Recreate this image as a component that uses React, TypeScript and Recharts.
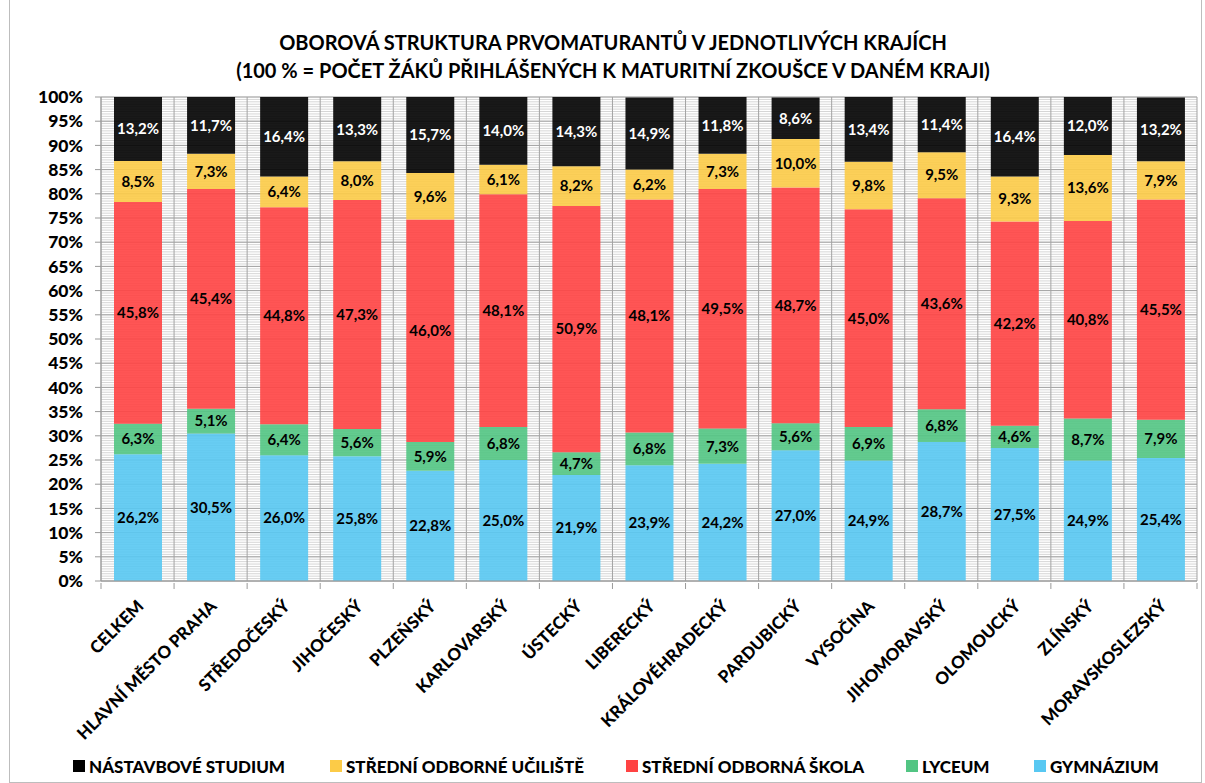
import React from 'react';
import { BarChart, Bar, XAxis, YAxis, CartesianGrid, LabelList } from 'recharts';

const categories = [
  'CELKEM', 'HLAVNÍ MĚSTO PRAHA', 'STŘEDOČESKÝ', 'JIHOČESKÝ', 'PLZEŇSKÝ',
  'KARLOVARSKÝ', 'ÚSTECKÝ', 'LIBERECKÝ', 'KRÁLOVÉHRADECKÝ', 'PARDUBICKÝ',
  'VYSOČINA', 'JIHOMORAVSKÝ', 'OLOMOUCKÝ', 'ZLÍNSKÝ', 'MORAVSKOSLEZSKÝ',
];
const gymnazium = [26.2, 30.5, 26.0, 25.8, 22.8, 25.0, 21.9, 23.9, 24.2, 27.0, 24.9, 28.7, 27.5, 24.9, 25.4];
const lyceum = [6.3, 5.1, 6.4, 5.6, 5.9, 6.8, 4.7, 6.8, 7.3, 5.6, 6.9, 6.8, 4.6, 8.7, 7.9];
const sos = [45.8, 45.4, 44.8, 47.3, 46.0, 48.1, 50.9, 48.1, 49.5, 48.7, 45.0, 43.6, 42.2, 40.8, 45.5];
const sou = [8.5, 7.3, 6.4, 8.0, 9.6, 6.1, 8.2, 6.2, 7.3, 10.0, 9.8, 9.5, 9.3, 13.6, 7.9];
const nastavba = [13.2, 11.7, 16.4, 13.3, 15.7, 14.0, 14.3, 14.9, 11.8, 8.6, 13.4, 11.4, 16.4, 12.0, 13.2];
const yTicks = [0, 5, 10, 15, 20, 25, 30, 35, 40, 45, 50, 55, 60, 65, 70, 75, 80, 85, 90, 95, 100];

const series = [
  { key: 'gym', name: 'GYMNÁZIUM', color: '#58C8F2', text: '#000000', values: gymnazium },
  { key: 'lyc', name: 'LYCEUM', color: '#52C583', text: '#000000', values: lyceum },
  { key: 'sos', name: 'STŘEDNÍ ODBORNÁ ŠKOLA', color: '#FF4343', text: '#000000', values: sos },
  { key: 'sou', name: 'STŘEDNÍ ODBORNÉ UČILIŠTĚ', color: '#FCCB47', text: '#000000', values: sou },
  { key: 'nas', name: 'NÁSTAVBOVÉ STUDIUM', color: '#000000', text: '#FFFFFF', values: nastavba },
];
const legendOrder = ['nas', 'sou', 'sos', 'lyc', 'gym'];
const legendLeft = [73, 330, 626, 906, 1034];

const data = categories.map((c, i) => {
  const row: Record<string, string | number> = { name: c };
  series.forEach((s) => { row[s.key] = s.values[i]; });
  return row;
});

const FONT = 'Lato, "Open Sans", sans-serif';
const W = 1205;
const H = 783;
const M = { top: 97, right: 8, left: 0, bottom: 0 };
const YW = 101;
const XH = 202;
const PLOT_W = W - YW - M.right;
const N = categories.length;

const fmt = (v: number) => v.toFixed(1).replace('.', ',') + '%';

const XTick = (props: any) => {
  const { x, y, payload } = props;
  const band = PLOT_W / N;
  const bx = x - band / 2;
  return (
    <g>
      <line x1={bx} y1={y} x2={bx} y2={y + 6} stroke="#9a9a9a" />
      {payload.index === N - 1 ? (
        <line x1={bx + band} y1={y} x2={bx + band} y2={y + 6} stroke="#9a9a9a" />
      ) : null}
      <text
        transform={`translate(${x + 3},${y + 20}) rotate(-45)`}
        textAnchor="end"
        dy="0.35em"
        fontFamily={FONT}
        fontWeight={900}
        fontSize={17}
        fill="#000"
      >
        {payload.value}
      </text>
    </g>
  );
};

export default function App() {
  return (
    <div style={{ position: 'absolute', left: 0, top: 0, width: W, height: H, background: '#fff', overflow: 'hidden' }}>
      <div style={{ position: 'absolute', left: 9, top: -1, width: 1193, height: H + 1, border: '1px solid #bdbdbd', boxSizing: 'border-box' }} />
      <div
        style={{
          position: 'absolute', left: 213, top: 28, width: 800, textAlign: 'center',
          fontFamily: FONT, fontWeight: 700, fontSize: 20, lineHeight: '28px', color: '#000',
        }}
      >
        <div>OBOROVÁ STRUKTURA PRVOMATURANTŮ V JEDNOTLIVÝCH KRAJÍCH</div>
        <div>(100 % = POČET ŽÁKŮ PŘIHLÁŠENÝCH K MATURITNÍ ZKOUŠCE V DANÉM KRAJI)</div>
      </div>
      <div style={{ position: 'absolute', left: 0, top: 0 }}>
        <BarChart width={W} height={H} data={data} margin={M} barSize={48}>
          <CartesianGrid
            stroke="#d6d6d6"
            vertical={false}
            horizontalCoordinatesGenerator={({ offset }: any) =>
              Array.from({ length: 201 }, (_, i) => offset.top + (offset.height * i) / 200)
            }
          />
          <CartesianGrid
            stroke="#a3a3a3"
            horizontal
            vertical
            verticalCoordinatesGenerator={({ offset }: any) =>
              Array.from({ length: N + 1 }, (_, i) => offset.left + (offset.width * i) / N)
            }
          />
          <XAxis
            dataKey="name"
            interval={0}
            height={XH}
            axisLine={{ stroke: '#9a9a9a' }}
            tickLine={false}
            tickSize={0}
            tick={<XTick />}
          />
          <YAxis
            type="number"
            domain={[0, 100]}
            ticks={yTicks}
            interval={0}
            allowDataOverflow
            width={YW}
            axisLine={{ stroke: '#9a9a9a' }}
            tickLine={{ stroke: '#9a9a9a' }}
            tickSize={6}
            tickMargin={12}
            tickFormatter={(v: number) => `${v}%`}
            tick={{ fontFamily: FONT, fontWeight: 900, fontSize: 17.5, fill: '#000' }}
          />
          {series.map((s) => (
            <Bar
              key={s.key}
              dataKey={s.key}
              name={s.name}
              stackId="a"
              fill={s.color}
              fillOpacity={0.9}
              isAnimationActive={false}
            >
              <LabelList
                dataKey={s.key}
                position="center"
                formatter={(v: any) => fmt(Number(v))}
                fill={s.text}
                fontFamily={FONT}
                fontWeight={700}
                fontSize={15}
              />
            </Bar>
          ))}
        </BarChart>
      </div>
      {legendOrder.map((k, i) => {
        const s = series.find((q) => q.key === k)!;
        return (
          <div
            key={k}
            style={{
              position: 'absolute', left: legendLeft[i], top: 755, height: 22, display: 'flex', alignItems: 'center',
              fontFamily: FONT, fontWeight: 900, fontSize: 17, color: '#000', whiteSpace: 'nowrap',
            }}
          >
            <span style={{ display: 'inline-block', width: 12, height: 12, background: s.color, marginRight: 4 }} />
            <span>{s.name}</span>
          </div>
        );
      })}
    </div>
  );
}
